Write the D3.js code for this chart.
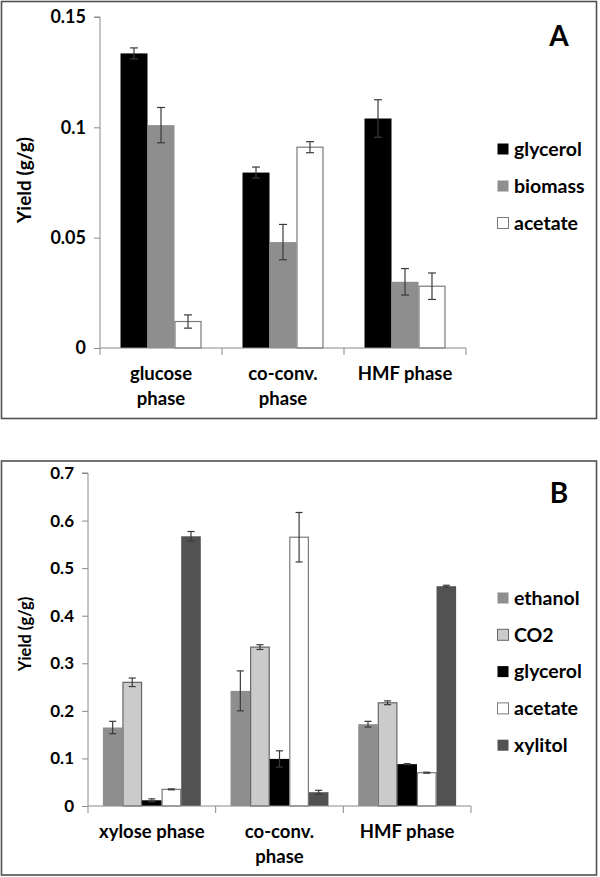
<!DOCTYPE html>
<html><head><meta charset="utf-8">
<script src="https://cdn.jsdelivr.net/npm/d3@7"></script>
<style>body{margin:0;background:#fff}svg{display:block}text{font-family:Lato,"Open Sans",sans-serif;font-weight:bold;fill:#000}</style>
</head><body>
<script>
// Panel A data
const catsA = [["glucose","phase"],["co-conv.","phase"],["HMF phase"]];
const seriesA = ["glycerol","biomass","acetate"];
const valuesA = {
  glycerol:[0.1335,0.0795,0.104],
  biomass:[0.101,0.048,0.030],
  acetate:[0.012,0.091,0.028]
};
const errA = {
  glycerol:[0.0025,0.0025,0.0085],
  biomass:[0.008,0.008,0.006],
  acetate:[0.003,0.0025,0.006]
};
const ticksA = [0,0.05,0.1,0.15];
const tickLabelsA = ["0","0.05","0.1","0.15"];

// Panel B data
const catsB = [["xylose phase"],["co-conv.","phase"],["HMF phase"]];
const seriesB = ["ethanol","CO2","glycerol","acetate","xylitol"];
const valuesB = {
  ethanol:[0.165,0.242,0.172],
  CO2:[0.260,0.334,0.217],
  glycerol:[0.012,0.099,0.088],
  acetate:[0.035,0.565,0.070],
  xylitol:[0.567,0.029,0.462]
};
const errB = {
  ethanol:[0.013,0.042,0.006],
  CO2:[0.009,0.005,0.004],
  glycerol:[0.003,0.017,0.001],
  acetate:[0.001,0.052,0.001],
  xylitol:[0.010,0.004,0.002]
};
const ticksB = [0,0.1,0.2,0.3,0.4,0.5,0.6,0.7];
const tickLabelsB = ["0","0.1","0.2","0.3","0.4","0.5","0.6","0.7"];

const styleA = {glycerol:{fill:"#000",stroke:"none"},biomass:{fill:"#8e8e8e",stroke:"none"},acetate:{fill:"#fff",stroke:"#7a7a7a"}};
const styleB = {ethanol:{fill:"#8e8e8e",stroke:"none"},CO2:{fill:"#cbcbcb",stroke:"#666"},glycerol:{fill:"#000",stroke:"none"},acetate:{fill:"#fff",stroke:"#7a7a7a"},xylitol:{fill:"#525252",stroke:"none"}};

const svg = d3.select("body").append("svg").attr("width",600).attr("height",877);

function panel(cfg){
  const g = svg.append("g");
  g.append("rect").attr("x",cfg.frame[0]).attr("y",cfg.frame[1]).attr("width",cfg.frame[2]).attr("height",cfg.frame[3])
    .attr("fill","none").attr("stroke","#505050").attr("stroke-width",1.6);
  const x0 = d3.scaleBand().domain(d3.range(cfg.cats.length)).range([cfg.x0,cfg.x1]);
  const x1 = d3.scaleBand().domain(cfg.series).range([0,x0.bandwidth()]).paddingOuter(cfg.outerPad).paddingInner(0);
  const y = d3.scaleLinear().domain([0,cfg.ymax]).range([cfg.y0,cfg.ytop]);
  cfg.series.forEach(s=>{
    const st = cfg.style[s];
    g.selectAll(null).data(cfg.values[s]).join("rect")
      .attr("x",(d,i)=>x0(i)+x1(s)+(st.stroke!=="none"?0.5:0))
      .attr("y",d=>y(d))
      .attr("width",x1.bandwidth()-(st.stroke!=="none"?1:0))
      .attr("height",d=>cfg.y0-y(d))
      .attr("fill",st.fill).attr("stroke",st.stroke).attr("stroke-width",1.2);
  });
  cfg.series.forEach(s=>{
    cfg.values[s].forEach((v,i)=>{
      const e = cfg.err[s][i];
      const cx = x0(i)+x1(s)+x1.bandwidth()/2;
      const ga = g.append("g").attr("stroke","#3a3a3a").attr("stroke-width",1.2);
      ga.append("line").attr("x1",cx).attr("x2",cx).attr("y1",y(v+e)).attr("y2",y(v-e));
      ga.append("line").attr("x1",cx-cfg.cap).attr("x2",cx+cfg.cap).attr("y1",y(v+e)).attr("y2",y(v+e));
      ga.append("line").attr("x1",cx-cfg.cap).attr("x2",cx+cfg.cap).attr("y1",y(v-e)).attr("y2",y(v-e));
    });
  });
  const ya = g.append("g").attr("transform",`translate(${cfg.x0},0)`)
    .call(d3.axisLeft(y).tickValues(cfg.ticks).tickFormat((d,i)=>cfg.tickLabels[i]).tickSize(6).tickPadding(8));
  ya.select(".domain").attr("stroke","#8a8a8a").attr("d",`M-6,${y(cfg.ymax)}H0V${cfg.y0}`);
  ya.selectAll(".tick line").attr("stroke","#8a8a8a");
  ya.selectAll(".tick text").attr("font-size",cfg.tickFs).attr("font-family","Lato,sans-serif").attr("font-weight","bold").attr("fill","#000");
  const xa = g.append("g").attr("transform",`translate(0,${cfg.y0})`);
  xa.append("line").attr("x1",cfg.x0).attr("x2",cfg.x1).attr("stroke","#8a8a8a");
  d3.range(cfg.cats.length+1).forEach(i=>{
    const xx = i<cfg.cats.length? x0(i): cfg.x1;
    xa.append("line").attr("x1",xx).attr("x2",xx).attr("y1",0).attr("y2",7).attr("stroke","#8a8a8a");
  });
  cfg.cats.forEach((c,i)=>{
    c.forEach((line,j)=>{
      xa.append("text").attr("x",x0(i)+x0.bandwidth()/2).attr("y",cfg.xlabDy+j*cfg.xlabLh)
        .attr("text-anchor","middle").attr("font-size",cfg.xlabFs).text(line);
    });
  });
  g.append("text").attr("transform",`translate(${cfg.ytitle[0]},${cfg.ytitle[1]}) rotate(-90)`)
    .attr("text-anchor","middle").attr("font-size",cfg.ytitleFs).text("Yield (g/g)");
  g.append("text").attr("x",cfg.letter[0]).attr("y",cfg.letter[1]).attr("text-anchor","middle")
    .attr("font-family","Liberation Sans,Arial,sans-serif").attr("font-size",28).text(cfg.letterText);
  cfg.series.forEach((s,i)=>{
    const ly = cfg.legY + i*cfg.legDy;
    const st = cfg.style[s];
    g.append("rect").attr("x",497.5).attr("y",ly-5.5).attr("width",11).attr("height",11)
      .attr("fill",st.fill).attr("stroke",st.stroke==="none"?"none":st.stroke).attr("stroke-width",1);
    g.append("text").attr("x",514).attr("y",ly).attr("dy","0.35em").attr("font-size",19.5).text(s);
  });
}

panel({frame:[1.5,1.5,595,417],cats:catsA,series:seriesA,values:valuesA,err:errA,style:styleA,
  x0:100,x1:466,y0:348,ytop:17,ymax:0.15,ticks:ticksA,tickLabels:tickLabelsA,tickFs:18,outerPad:0.76,cap:4,
  xlabDy:32,xlabLh:25,xlabFs:18.5,ytitle:[31,180],ytitleFs:19,letter:[559,46],letterText:"A",legY:149,legDy:37});

panel({frame:[1.5,461,595,414],cats:catsB,series:seriesB,values:valuesB,err:errB,style:styleB,
  x0:88,x1:471,y0:806,ytop:473,ymax:0.7,ticks:ticksB,tickLabels:tickLabelsB,tickFs:17,outerPad:0.76,cap:3.5,
  xlabDy:32,xlabLh:25,xlabFs:18.5,ytitle:[31,634],ytitleFs:16.5,letter:[559,503],letterText:"B",legY:598,legDy:36.8});
</script>
</body></html>
